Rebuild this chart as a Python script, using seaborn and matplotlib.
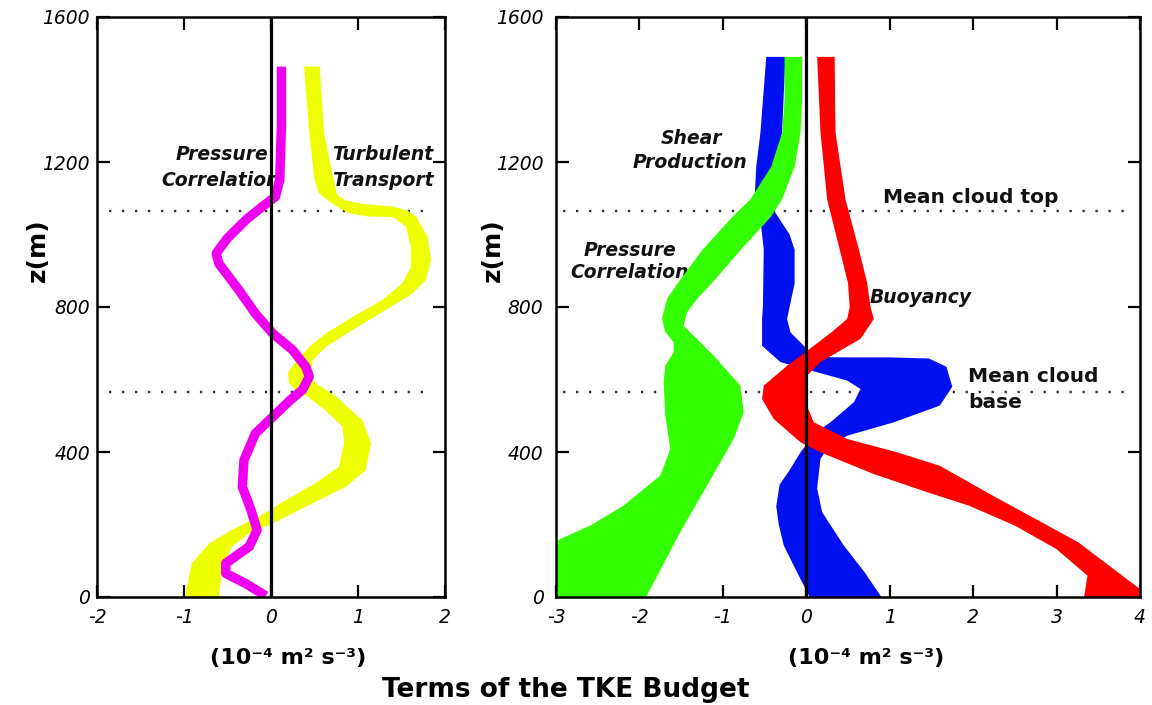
import numpy as np
import matplotlib
matplotlib.use("Agg")
import matplotlib.pyplot as plt
import seaborn as sns

# ------------------------------------------------------------------ data
z_ticks = [0, 400, 800, 1200, 1600]
left_xticks = [-2, -1, 0, 1, 2]
right_xticks = [-3, -2, -1, 0, 1, 2, 3, 4]
cloud_top = 1065
cloud_base = 566

# Left panel - Pressure Correlation (thin magenta curve, centreline)
pcl_z = [1463, 1300, 1150, 1104, 1077, 1040, 990, 948, 920, 847, 782, 727, 681,
         635, 608, 571, 543, 497, 451, 378, 304, 240, 185, 139, 93, 65, 37, 3]
pcl_x = [0.12, 0.12, 0.10, 0.05, -0.10, -0.29, -0.50, -0.63, -0.60, -0.37, -0.18,
         0.02, 0.25, 0.40, 0.44, 0.36, 0.22, 0.02, -0.18, -0.31, -0.33, -0.23,
         -0.16, -0.25, -0.52, -0.52, -0.29, -0.06]

# Left panel - Turbulent Transport band (left / right edges)
tt_a_z = [1463, 1280, 1150, 1114, 1086, 1060, 1050, 1048, 1022, 966, 911, 866, 819,
          773, 727, 690, 654, 617, 590, 571, 553, 516, 470, 424, 359, 314, 267,
          222, 185, 148, 93, 0]
tt_a_x = [0.38, 0.44, 0.50, 0.55, 0.70, 0.88, 1.10, 1.40, 1.55, 1.61, 1.61, 1.51,
          1.28, 0.94, 0.63, 0.44, 0.30, 0.19, 0.21, 0.28, 0.42, 0.62, 0.82, 0.84,
          0.78, 0.51, 0.17, -0.14, -0.45, -0.71, -0.91, -0.99]
tt_b_z = [1463, 1280, 1150, 1110, 1095, 1084, 1077, 1066, 1049, 994, 930, 874, 838,
          792, 737, 690, 654, 620, 590, 553, 507, 488, 424, 350, 304, 249, 203,
          176, 139, 84, 0]
tt_b_x = [0.56, 0.61, 0.72, 0.76, 0.85, 1.05, 1.40, 1.57, 1.67, 1.80, 1.84, 1.78,
          1.63, 1.32, 0.94, 0.63, 0.48, 0.46, 0.51, 0.75, 0.96, 1.05, 1.15, 1.09,
          0.86, 0.40, 0.02, -0.25, -0.45, -0.56, -0.60]

# Right panel - Shear Production (blue band)
sp_a_z = [1490, 1280, 1187, 1100, 1040, 960, 800, 767, 693, 648, 628, 620, 597,
          574, 537, 482, 463, 420, 399, 350, 310, 250, 200, 142, 68, 0]
sp_a_x = [-0.48, -0.55, -0.60, -0.62, -0.55, -0.51, -0.52, -0.53, -0.53, -0.31,
          0.00, 0.13, 0.49, 0.65, 0.57, 0.29, 0.17, 0.00, -0.07, -0.20, -0.32,
          -0.36, -0.33, -0.27, -0.11, 0.04]
sp_b_z = [1490, 1280, 1187, 1100, 1060, 1000, 958, 865, 800, 767, 730, 684, 662,
          661, 661, 658, 635, 580, 528, 482, 445, 410, 381, 300, 234, 142, 68, 0]
sp_b_x = [-0.25, -0.29, -0.37, -0.42, -0.37, -0.20, -0.14, -0.14, -0.20, -0.23,
          -0.19, 0.01, 0.09, 0.50, 1.00, 1.47, 1.68, 1.75, 1.60, 1.05, 0.49, 0.25,
          0.17, 0.13, 0.19, 0.45, 0.70, 0.90]

# Right panel - Pressure Correlation (green band)
pc_a_z = [1490, 1371, 1280, 1187, 1097, 1050, 959, 866, 822, 767, 731, 703, 675,
          638, 592, 500, 408, 335, 252, 197, 160, 100, 0]
pc_a_x = [-0.26, -0.26, -0.29, -0.42, -0.67, -0.88, -1.24, -1.54, -1.67, -1.73,
          -1.69, -1.59, -1.59, -1.69, -1.71, -1.69, -1.63, -1.75, -2.19, -2.59,
          -2.95, -3.35, -3.60]
pc_b_z = [1490, 1371, 1280, 1187, 1097, 1050, 959, 866, 822, 785, 748, 721, 666,
          583, 509, 436, 307, 179, 0]
pc_b_x = [-0.05, -0.05, -0.07, -0.14, -0.29, -0.42, -0.78, -1.13, -1.31, -1.43,
          -1.47, -1.35, -1.11, -0.79, -0.75, -0.87, -1.19, -1.51, -1.92]

# Right panel - Buoyancy (red band)
by_a_z = [1490, 1282, 1097, 959, 866, 800, 767, 730, 693, 638, 583, 546, 491, 427,
          399, 340, 289, 252, 197, 132, 59, 0]
by_a_x = [0.13, 0.17, 0.25, 0.40, 0.50, 0.52, 0.49, 0.30, 0.09, -0.23, -0.51,
          -0.53, -0.39, -0.07, 0.17, 0.80, 1.45, 1.95, 2.50, 3.00, 3.37, 3.33]
by_b_z = [1490, 1282, 1097, 959, 866, 800, 767, 712, 648, 611, 537, 482, 436, 399,
          362, 279, 215, 151, 22, 0]
by_b_x = [0.34, 0.35, 0.47, 0.63, 0.73, 0.77, 0.81, 0.65, 0.17, 0.01, -0.01, 0.09,
          0.49, 1.09, 1.60, 2.24, 2.75, 3.26, 4.00, 4.05]

# ------------------------------------------------------------------ style
sns.set_theme(style="white")
plt.rcParams["font.family"] = ["DejaVu Sans"]
plt.rcParams["axes.unicode_minus"] = False
plt.rcParams["text.color"] = "black"
plt.rcParams["xtick.color"] = "black"
plt.rcParams["ytick.color"] = "black"
plt.rcParams["xtick.labelcolor"] = "black"
plt.rcParams["ytick.labelcolor"] = "black"

W, H = 1152, 705
fig = plt.figure(figsize=(W / 100, H / 100), dpi=100)
fig.patch.set_facecolor("white")


def fx(px):
    return px / W


def fy(py):
    return 1 - py / H


ax1 = fig.add_axes([fx(97), fy(597), fx(445) - fx(97), fy(17) - fy(597)])
ax2 = fig.add_axes([fx(556), fy(597), fx(1140) - fx(556), fy(17) - fy(597)])

C_MAG = "#F000F0"
C_YEL = "#EEFF00"
C_GRN = "#33FF00"
C_BLU = "#0010F0"
C_RED = "#FF0000"


def band(ax, az, ax_, bz, bx, color, z):
    xs = np.r_[np.asarray(ax_), np.asarray(bx)[::-1]]
    zs = np.r_[np.asarray(az), np.asarray(bz)[::-1]]
    ax.fill(xs, zs, color=color, lw=0, zorder=z)


def style_axes(ax, xticks, ypad, dot_lo, dot_hi):
    ax.set_xlim(xticks[0], xticks[-1])
    ax.set_ylim(0, 1600)
    ax.set_facecolor("white")
    for s in ax.spines.values():
        s.set_visible(True)
        s.set_color("black")
        s.set_linewidth(1.8)
        s.set_zorder(12)
    ax.set_xticks(xticks)
    ax.set_xticklabels([str(t) for t in xticks], fontstyle="italic", fontsize=13.5,
                       color="black")
    ax.set_yticks(z_ticks)
    ax.set_yticklabels([str(t) for t in z_ticks], fontstyle="italic", fontsize=13.5,
                       color="black")
    ax.tick_params(axis="both", direction="in", length=9, width=1.6,
                   bottom=True, top=True, left=True, right=True, colors="black")
    ax.tick_params(axis="x", pad=8)
    ax.tick_params(axis="y", pad=ypad)
    ax.set_xlabel("")
    ax.set_ylabel("")
    ax.grid(False)
    ax.axvline(0, color="black", lw=2.3, zorder=10)
    for zc in (cloud_top, cloud_base):
        ax.axhline(zc, xmin=dot_lo, xmax=dot_hi,
                   color="#333333", lw=1.7, ls=(0, (1, 4.5)), zorder=1)


# ----- left panel
band(ax1, tt_a_z, tt_a_x, tt_b_z, tt_b_x, C_YEL, 3)
sns.lineplot(x=pcl_x, y=pcl_z, sort=False, estimator=None, color=C_MAG,
             linewidth=6.8, solid_capstyle="butt", ax=ax1, zorder=4)
style_axes(ax1, left_xticks, 5, 0.035, 0.966)

# ----- right panel
band(ax2, sp_a_z, sp_a_x, sp_b_z, sp_b_x, C_BLU, 3)
band(ax2, pc_a_z, pc_a_x, pc_b_z, pc_b_x, C_GRN, 4)
band(ax2, by_a_z, by_a_x, by_b_z, by_b_x, C_RED, 5)
style_axes(ax2, right_xticks, 9, 0.012, 0.988)


# ----- annotations
def note(ax, px, py, s, ha="center", size=13.5, italic=True):
    ax.text(fx(px), fy(py), s, transform=fig.transFigure, ha=ha, va="center",
            fontsize=size, fontweight="bold",
            fontstyle="italic" if italic else "normal", zorder=2, color="#111111")


note(ax1, 268, 155, "Pressure", ha="right")
note(ax1, 280, 180, "Correlation", ha="right")
note(ax1, 332, 155, "Turbulent", ha="left")
note(ax1, 332, 180, "Transport", ha="left")

note(ax2, 691, 138, "Shear")
note(ax2, 690, 162, "Production")
note(ax2, 630, 250, "Pressure")
note(ax2, 630, 272, "Correlation")
note(ax2, 870, 297, "Buoyancy", ha="left")
note(ax2, 883, 197, "Mean cloud top", ha="left", size=14.5, italic=False)
note(ax2, 968, 377, "Mean cloud", ha="left", size=14.5, italic=False)
note(ax2, 968, 402, "base", ha="left", size=14.5, italic=False)

for px in (38, 493):
    fig.text(fx(px), fy(250), "z(m)", rotation=90, ha="center", va="center",
             fontsize=18, fontweight="bold", color="black")

for px in (288, 866):
    fig.text(fx(px), fy(658), "(10\u207b\u2074 m\u00b2 s\u207b\u00b3)", ha="center",
             va="center", fontsize=16, fontweight="bold", color="black")

fig.text(fx(566), fy(690), "Terms of the TKE Budget", ha="center", va="center",
         fontsize=19, fontweight="bold", color="black")

fig.savefig("out.png", dpi=100, facecolor="white")
